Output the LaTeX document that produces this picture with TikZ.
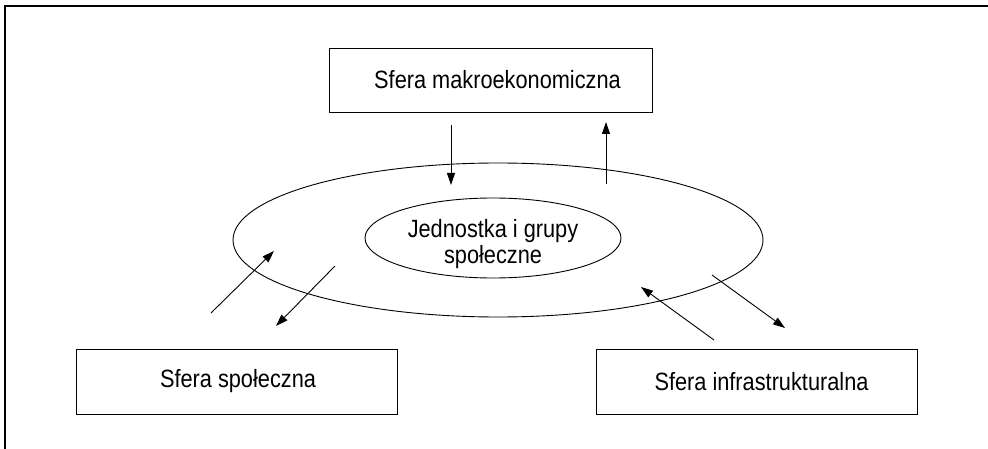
\documentclass[tikz,border=0pt]{standalone}
\usepackage{fontspec}
\setmainfont{Liberation Sans}[FakeStretch=0.87]
\usetikzlibrary{shapes.geometric,arrows.meta}
\tikzset{
  sfera/.style={draw,line width=0.9pt,minimum width=321pt,minimum height=65pt,inner sep=0pt},
  strzalka/.style={line width=0.9pt,-{Triangle[length=12pt,width=8pt]}}
}
\begin{document}
\begin{tikzpicture}[x=1pt,y=-1pt,font=\fontsize{25}{26}\selectfont]
    \useasboundingbox (0,0) rectangle (988,449);
    \draw[line width=1.5pt] (5,449)--(5,6)--(988,6);
    % sfery
    \node[sfera,minimum width=323pt,minimum height=64pt] (makro) at (490.5,80) {\hspace*{14pt}Sfera makroekonomiczna};
    \node[sfera] (spol) at (236.5,381.5) {\hspace*{3pt}Sfera społeczna};
    \node[sfera] (infra) at (756.5,381.5) {\hspace*{10pt}Sfera infrastrukturalna};
    % elipsy
    \node[draw,ellipse,line width=0.9pt,minimum width=530pt,minimum height=154pt,inner sep=0pt] (otoczenie) at (498,240) {};
    \node[draw,ellipse,line width=0.9pt,minimum width=256pt,minimum height=80pt,inner sep=0pt] (jednostka) at (493,238) {};
    \node[align=center,inner sep=0pt] (jednostka-tekst) at ([yshift=-6pt]jednostka.center) {Jednostka i grupy\\społeczne};
    % punkty strzalek
    \coordinate (d1) at (451,125);
    \coordinate (d2) at (451,185);
    \coordinate (u1) at (606,184);
    \coordinate (u2) at (606,122);
    \coordinate (l1) at (211,313);
    \coordinate (l2) at (274,251);
    \coordinate (l3) at (335,266);
    \coordinate (l4) at (276,326);
    \coordinate (r1) at (714,340);
    \coordinate (r2) at (641,287);
    \coordinate (r3) at (712,275);
    \coordinate (r4) at (785,328);
    \draw[strzalka] (d1)--(d2);
    \draw[strzalka] (u1)--(u2);
    \draw[strzalka] (l1)--(l2);
    \draw[strzalka] (l3)--(l4);
    \draw[strzalka] (r1)--(r2);
    \draw[strzalka] (r3)--(r4);
\end{tikzpicture}
\end{document}
